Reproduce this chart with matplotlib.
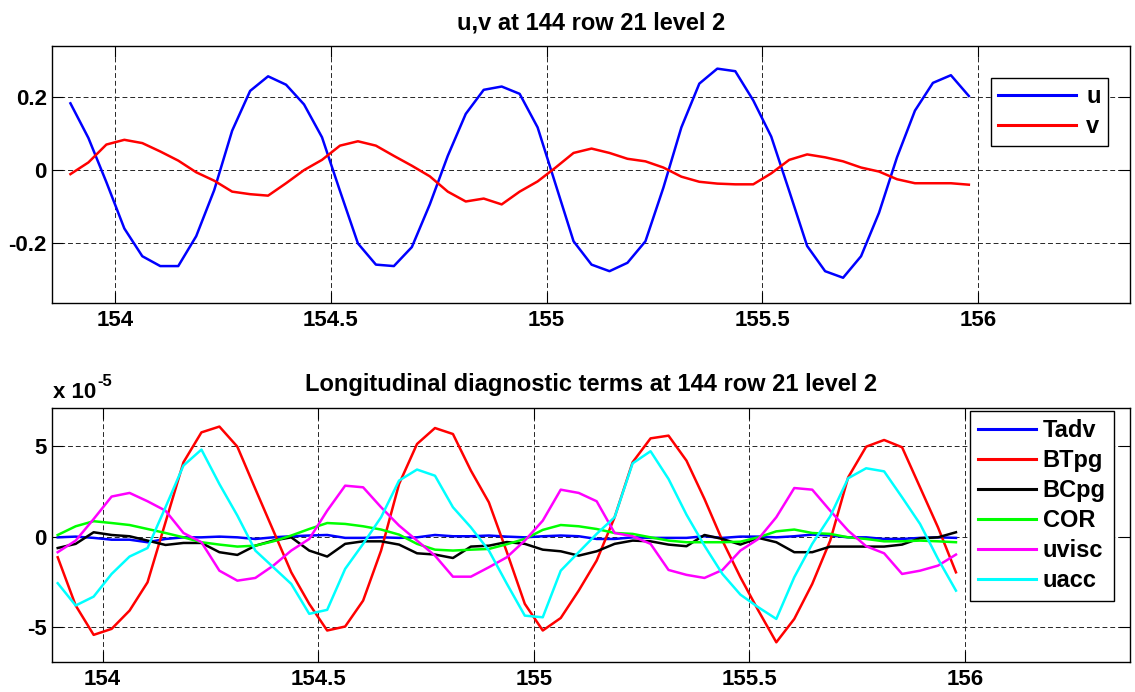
#!/usr/bin/env python3
"""
Two-panel time series: u,v and longitudinal momentum diagnostic terms.
"""

import numpy as np
import matplotlib
matplotlib.use("Agg")
import matplotlib.pyplot as plt
from matplotlib.ticker import FuncFormatter

OUTPUT_PNG = "out.png"

# ---------------------------
# Data (hourly samples, time in days)
# ---------------------------
T_START = 153.896
N_HOURS = 51
time = T_START + np.arange(N_HOURS) / 24.0

u = [0.183, 0.088, -0.033, -0.160, -0.236, -0.263, -0.263, -0.181, -0.055, 0.108,
     0.217, 0.257, 0.234, 0.180, 0.090, -0.057, -0.201, -0.259, -0.263, -0.211,
     -0.094, 0.039, 0.154, 0.220, 0.229, 0.209, 0.117, -0.039, -0.195, -0.259,
     -0.277, -0.254, -0.195, -0.048, 0.117, 0.237, 0.278, 0.271, 0.191, 0.092,
     -0.057, -0.208, -0.277, -0.295, -0.236, -0.117, 0.035, 0.163, 0.239, 0.260,
     0.203]
v = [-0.011, 0.021, 0.070, 0.083, 0.074, 0.051, 0.026, -0.006, -0.029, -0.059,
     -0.066, -0.070, -0.036, 0.000, 0.028, 0.067, 0.079, 0.067, 0.039, 0.012,
     -0.017, -0.059, -0.086, -0.078, -0.094, -0.059, -0.031, 0.007, 0.047, 0.059,
     0.047, 0.031, 0.024, 0.007, -0.018, -0.032, -0.037, -0.039, -0.039, -0.009,
     0.028, 0.043, 0.035, 0.024, 0.007, -0.004, -0.025, -0.036, -0.036, -0.036,
     -0.040]

# diagnostic terms, in units of 1e-5
SCALE = 1e-5
tadv = [-0.04, 0.00, -0.07, -0.17, -0.17, -0.31, -0.13, -0.04, -0.04, 0.00,
        -0.04, -0.13, -0.04, 0.02, 0.06, 0.09, -0.07, -0.07, -0.04, -0.07,
        -0.04, 0.09, 0.02, 0.02, 0.06, 0.00, -0.04, 0.02, 0.06, 0.02,
        -0.13, -0.13, -0.04, -0.07, -0.07, -0.07, 0.02, -0.07, 0.00, 0.00,
        -0.04, 0.02, 0.11, 0.06, -0.04, -0.04, -0.13, -0.13, -0.07, -0.04,
        -0.07]
btpg = [-1.14, -3.80, -5.42, -5.09, -4.08, -2.52, 0.79, 4.10, 5.75, 6.07,
        4.96, 2.63, 0.33, -1.97, -3.71, -5.18, -4.96, -3.53, -0.77, 2.90,
        5.11, 5.99, 5.66, 3.64, 1.89, -0.85, -3.71, -5.18, -4.49, -2.98,
        -1.32, 1.07, 4.10, 5.42, 5.57, 4.19, 2.08, -0.22, -2.24, -4.08,
        -5.83, -4.54, -2.61, -0.22, 3.27, 4.96, 5.33, 4.93, 2.72, 0.51,
        -1.97]
bcpg = [-0.63, -0.40, 0.24, 0.09, 0.02, -0.22, -0.46, -0.35, -0.35, -0.86,
        -1.01, -0.50, -0.22, -0.04, -0.77, -1.10, -0.40, -0.26, -0.26, -0.44,
        -0.92, -0.99, -1.18, -0.55, -0.50, -0.30, -0.40, -0.72, -0.81, -1.05,
        -0.81, -0.40, -0.22, -0.26, -0.44, -0.53, 0.09, -0.13, -0.44, -0.07,
        -0.31, -0.86, -0.86, -0.55, -0.55, -0.55, -0.55, -0.44, -0.09, -0.04,
        0.24]
cor = [0.09, 0.57, 0.85, 0.75, 0.64, 0.42, 0.20, -0.04, -0.31, -0.44,
       -0.55, -0.50, -0.26, 0.06, 0.42, 0.75, 0.70, 0.57, 0.39, 0.11,
       -0.40, -0.72, -0.77, -0.72, -0.68, -0.42, -0.13, 0.37, 0.64, 0.57,
       0.42, 0.20, 0.15, -0.04, -0.22, -0.31, -0.31, -0.31, -0.28, -0.04,
       0.29, 0.39, 0.20, 0.15, -0.04, -0.13, -0.26, -0.26, -0.22, -0.26,
       -0.31]
uvisc = [-0.86, -0.22, 0.97, 2.21, 2.41, 1.95, 1.43, 0.20, -0.31, -1.88,
         -2.43, -2.28, -1.60, -0.77, -0.13, 1.43, 2.81, 2.72, 1.62, 0.61,
         -0.22, -1.05, -2.21, -2.21, -1.69, -1.14, -0.22, 0.88, 2.59, 2.41,
         1.95, 0.20, 0.02, -0.40, -1.84, -2.11, -2.28, -1.84, -0.77, -0.13,
         1.07, 2.68, 2.59, 1.43, 0.33, -0.53, -0.92, -2.06, -1.88, -1.60,
         -0.99]
uacc = [-2.57, -3.80, -3.31, -2.06, -1.10, -0.63, 1.62, 3.92, 4.80, 2.90,
        1.16, -0.77, -1.69, -2.61, -4.26, -4.04, -1.78, -0.40, 1.07, 3.09,
        3.70, 3.36, 1.62, 0.51, -0.77, -2.60, -4.36, -4.45, -1.88, -0.86,
        0.15, 1.07, 4.04, 4.71, 3.18, 1.21, -0.50, -2.06, -3.20, -3.90,
        -4.54, -2.24, -0.40, 1.12, 3.22, 3.77, 3.60, 2.17, 0.70, -1.23,
        -2.98]

terms = [("Tadv", tadv, "#0000ff"), ("BTpg", btpg, "#ff0000"),
         ("BCpg", bcpg, "#000000"), ("COR", cor, "#00ff00"),
         ("uvisc", uvisc, "#ff00ff"), ("uacc", uacc, "#00ffff")]

# ---------------------------
# Style (MATLAB-like)
# ---------------------------
plt.rcParams['font.family'] = ['Liberation Sans', 'DejaVu Sans']
plt.rcParams['font.weight'] = 'bold'

FS_TICK = 16
FS_TITLE = 17
FS_LEG = 17
LW = 1.8


def style_axes(ax):
    ax.grid(True, color='0.15', linestyle=(0, (5, 3)), linewidth=0.7)
    ax.tick_params(direction='in', length=8, width=0.8, top=True, right=True,
                   labelsize=FS_TICK)
    ax.tick_params(axis='x', pad=5)
    ax.tick_params(axis='y', pad=4)
    for s in ax.spines.values():
        s.set_linewidth(1.0)
    for lab in ax.get_xticklabels() + ax.get_yticklabels():
        lab.set_fontweight('bold')


def style_legend(leg):
    leg.get_frame().set_linewidth(1.0)
    for line in leg.get_lines():
        line.set_linewidth(2.2)


fig = plt.figure(figsize=(11.35, 6.92), dpi=100)

# ---------------------------
# Top: u, v
# ---------------------------
ax1 = fig.add_axes([0.0461, 0.5617, 0.9495, 0.3718])
ax1.plot(time, u, color='#0000ff', lw=LW, label='u')
ax1.plot(time, v, color='#ff0000', lw=LW, label='v')
ax1.set_xlim(153.854, 156.353)
ax1.set_ylim(-0.365, 0.34)
ax1.set_xticks([154, 154.5, 155, 155.5, 156])
ax1.set_xticklabels(['154', '154.5', '155', '155.5', '156'])
ax1.set_yticks([-0.2, 0, 0.2])
ax1.set_yticklabels(['-0.2', '0', '0.2'])
style_axes(ax1)
ax1.set_title('u,v at 144 row 21 level 2', fontsize=FS_TITLE, fontweight='bold', pad=12)
leg1 = ax1.legend(loc='upper right', bbox_to_anchor=(0.9794, 0.8745),
                  fancybox=False, edgecolor='black', framealpha=1,
                  handlelength=3.3, fontsize=FS_LEG, borderaxespad=0,
                  borderpad=0.3, labelspacing=0.3, handletextpad=0.45)
style_legend(leg1)

# ---------------------------
# Bottom: diagnostic terms
# ---------------------------
ax2 = fig.add_axes([0.0461, 0.0438, 0.9495, 0.3670])
for name, vals, col in terms:
    ax2.plot(time, np.array(vals) * SCALE, color=col, lw=LW, label=name)
ax2.set_xlim(153.8835, 156.383)
ax2.set_ylim(-6.9 * SCALE, 7.11 * SCALE)
ax2.set_xticks([154, 154.5, 155, 155.5, 156])
ax2.set_xticklabels(['154', '154.5', '155', '155.5', '156'])
ax2.set_yticks([-5 * SCALE, 0, 5 * SCALE])
ax2.yaxis.set_major_formatter(FuncFormatter(lambda y, p: f"{y / SCALE:g}"))
style_axes(ax2)
ax2.set_title('Longitudinal diagnostic terms at 144 row 21 level 2',
              fontsize=FS_TITLE, fontweight='bold', pad=12)
leg2 = ax2.legend(loc='upper right', bbox_to_anchor=(0.9852, 0.988),
                  fancybox=False, edgecolor='black', framealpha=1,
                  handlelength=2.45, fontsize=FS_LEG, borderaxespad=0,
                  borderpad=0.35, labelspacing=0.3, handletextpad=0.3)
style_legend(leg2)

# MATLAB-style exponent label
fig.text(53 / 1135, 1 - 398 / 692, 'x 10', fontsize=FS_TICK, fontweight='bold',
         ha='left', va='baseline')
fig.text(97 / 1135, 1 - 386 / 692, '-5', fontsize=FS_TICK - 4, fontweight='bold',
         ha='left', va='baseline')

fig.savefig(OUTPUT_PNG, dpi=100)
plt.close(fig)
print(f"Plot saved: {OUTPUT_PNG}")
